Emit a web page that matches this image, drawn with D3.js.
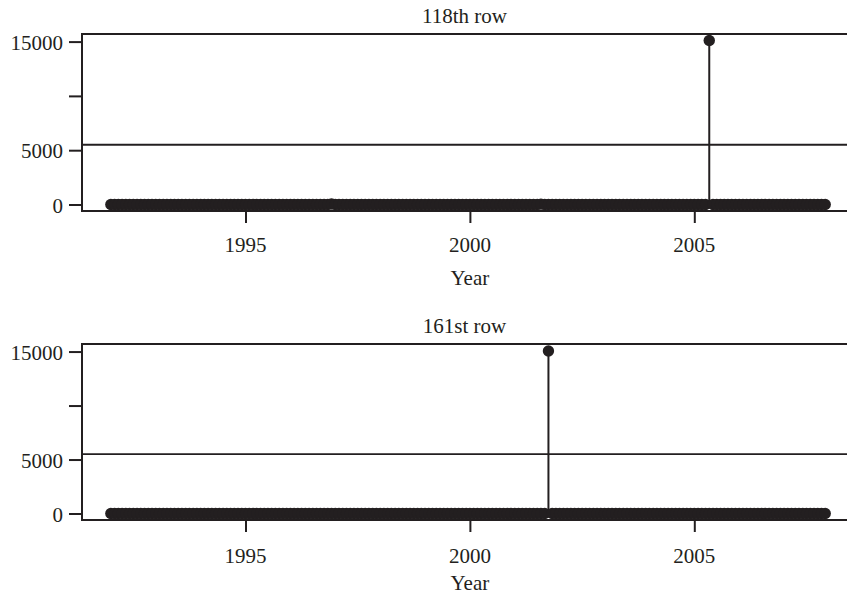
<html>
 <head>
 <meta charset="utf-8">
 <title>118th and 161st rows</title>
<style>
 body{ margin:0; background:#fff; }
 text{ font-family:'Liberation Serif', 'Times New Roman', serif; fill:#231f20; }
</style>
<script src="https://cdnjs.cloudflare.com/ajax/libs/d3/7.8.5/d3.min.js"></script>
 </head>
 <body>
   <div id="plot"></div>
<script>
  // monthly values, one row per year, Jan..Dec
  var years = [1992, 1993, 1994, 1995, 1996, 1997, 1998, 1999,
               2000, 2001, 2002, 2003, 2004, 2005, 2006, 2007];

  var row118 = [
    [0,0,0,0,0,0,0,0,0,0,0,0],
    [0,0,0,0,0,0,0,0,0,0,0,0],
    [0,0,0,0,0,0,0,0,0,0,0,0],
    [0,0,0,0,0,0,0,0,0,0,0,0],
    [0,0,0,0,0,0,0,0,0,0,0,45],
    [0,0,0,0,0,0,0,0,0,0,0,0],
    [0,0,0,0,0,0,0,0,0,0,0,0],
    [0,0,0,0,0,0,0,0,0,0,0,0],
    [0,0,0,0,0,0,0,0,0,0,0,0],
    [0,0,0,0,0,0,0,30,0,0,0,0],
    [0,0,0,0,0,0,0,0,0,0,0,0],
    [0,0,0,0,0,0,0,0,0,0,0,0],
    [0,0,0,0,0,0,0,0,0,0,0,0],
    [0,0,0,0,15100,0,0,0,0,0,0,0],
    [0,0,0,0,0,0,0,0,0,0,0,0],
    [0,0,0,0,0,0,0,0,0,0,0,0]
  ];

  var row161 = [
    [0,0,0,0,0,0,0,0,0,0,0,0],
    [0,0,0,0,0,0,0,0,0,0,0,0],
    [0,0,0,0,0,0,0,0,0,0,0,0],
    [0,0,0,0,0,0,0,0,0,0,0,0],
    [0,0,0,0,0,0,0,0,0,0,0,0],
    [0,0,0,0,0,0,0,0,0,0,0,0],
    [0,0,0,0,0,0,0,0,0,0,0,0],
    [0,0,0,0,0,0,0,0,0,0,0,0],
    [0,0,0,0,0,0,0,0,0,0,0,0],
    [0,0,0,0,0,0,0,0,0,15050,0,0],
    [0,0,0,0,0,0,0,0,0,0,0,0],
    [0,0,0,0,0,0,0,0,0,0,0,0],
    [0,0,0,0,0,0,0,0,0,0,0,0],
    [0,0,0,0,0,0,0,0,0,0,0,0],
    [0,0,0,0,0,0,0,0,0,0,0,0],
    [0,0,0,0,0,0,0,0,0,0,0,0]
  ];

  var titles = ["118th row", "161st row"];
  var xTicks = [1995, 2000, 2005];
  var yTicks = [0, 5000, 10000, 15000];
  var yTickLabels = ["0", "5000", "", "15000"];
  var threshold = 5500;

  var w = 847, h = 598;
  var ink = "#231f20";

  // panel boxes
  var panels = [
    {title: titles[0], rows: row118, top: 34, bottom: 211, titleY: 22.5, tickY: 252, labY: 285},
    {title: titles[1], rows: row161, top: 344, bottom: 520, titleY: 333, tickY: 563, labY: 590}
  ];
  var left = 82, right = 847;

  var x = d3.scaleLinear().domain([1995, 2005]).range([245.5, 694.3]);

  var svg = d3.select("#plot").append("svg")
      .attr("width", w).attr("height", h);

  function flat(rows) {
    var out = [];
    rows.forEach(function(r, i) {
      r.forEach(function(v, m) {
        out.push({t: years[i] + m / 12, v: v});
      });
    });
    return out;
  }

  panels.forEach(function(p) {
    var data = flat(p.rows);
    var y = d3.scaleLinear().domain([-600, 15700]).range([p.bottom, p.top]);
    var g = svg.append("g");

    g.append("text")
      .attr("x", (left + right) / 2).attr("y", p.titleY)
      .attr("text-anchor", "middle")
      .style("font-size", "21px")
      .text(p.title);

    // frame: top and bottom lines
    g.append("line").attr("x1", left).attr("x2", right)
      .attr("y1", p.top).attr("y2", p.top)
      .attr("stroke", ink).attr("stroke-width", 2);
    g.append("line").attr("x1", left).attr("x2", right)
      .attr("y1", p.bottom).attr("y2", p.bottom)
      .attr("stroke", ink).attr("stroke-width", 2);

    // reference line
    g.append("line").attr("x1", left).attr("x2", right)
      .attr("y1", y(threshold)).attr("y2", y(threshold))
      .attr("stroke", ink).attr("stroke-width", 1.8);

    // y axis
    var ya = d3.axisLeft(y).tickValues(yTicks).tickSize(13).tickPadding(6)
      .tickFormat(function(d, i) { return yTickLabels[i]; });
    var yg = g.append("g").attr("transform", "translate(" + left + ",0)").call(ya);
    yg.select(".domain").remove();
    yg.append("line").attr("x1", 0).attr("x2", 0)
      .attr("y1", p.top - 1).attr("y2", p.bottom + 1)
      .attr("stroke", ink).attr("stroke-width", 2);
    yg.selectAll(".tick line").attr("stroke", ink).attr("stroke-width", 2);
    yg.selectAll(".tick text").attr("fill", ink)
      .style("font-size", "21px").attr("dy", "0.36em")
      .style("font-family", "'Liberation Serif', serif");

    // x axis ticks
    var xa = d3.axisBottom(x).tickValues(xTicks).tickSize(12).tickFormat(d3.format("d"));
    var xg = g.append("g").attr("transform", "translate(0," + p.bottom + ")").call(xa);
    xg.select(".domain").remove();
    xg.selectAll(".tick line").attr("stroke", ink).attr("stroke-width", 2);
    xg.selectAll(".tick text").remove();
    g.selectAll(".xlab").data(xTicks).enter().append("text")
      .attr("x", function(d) { return x(d); }).attr("y", p.tickY)
      .attr("text-anchor", "middle").style("font-size", "21px")
      .text(function(d) { return d; });

    g.append("text")
      .attr("x", x(2000)).attr("y", p.labY)
      .attr("text-anchor", "middle").style("font-size", "21px")
      .text("Year");

    // stems
    g.selectAll(".stem").data(data.filter(function(d) { return d.v > 500; }))
      .enter().append("line")
      .attr("x1", function(d) { return x(d.t); })
      .attr("x2", function(d) { return x(d.t); })
      .attr("y1", y(0))
      .attr("y2", function(d) { return y(d.v); })
      .attr("stroke", ink).attr("stroke-width", 2);

    // points
    g.selectAll(".pt").data(data).enter().append("circle")
      .attr("cx", function(d) { return x(d.t); })
      .attr("cy", function(d) { return y(d.v); })
      .attr("r", 5.7)
      .attr("fill", ink);
  });
</script>
 </body>
</html>
